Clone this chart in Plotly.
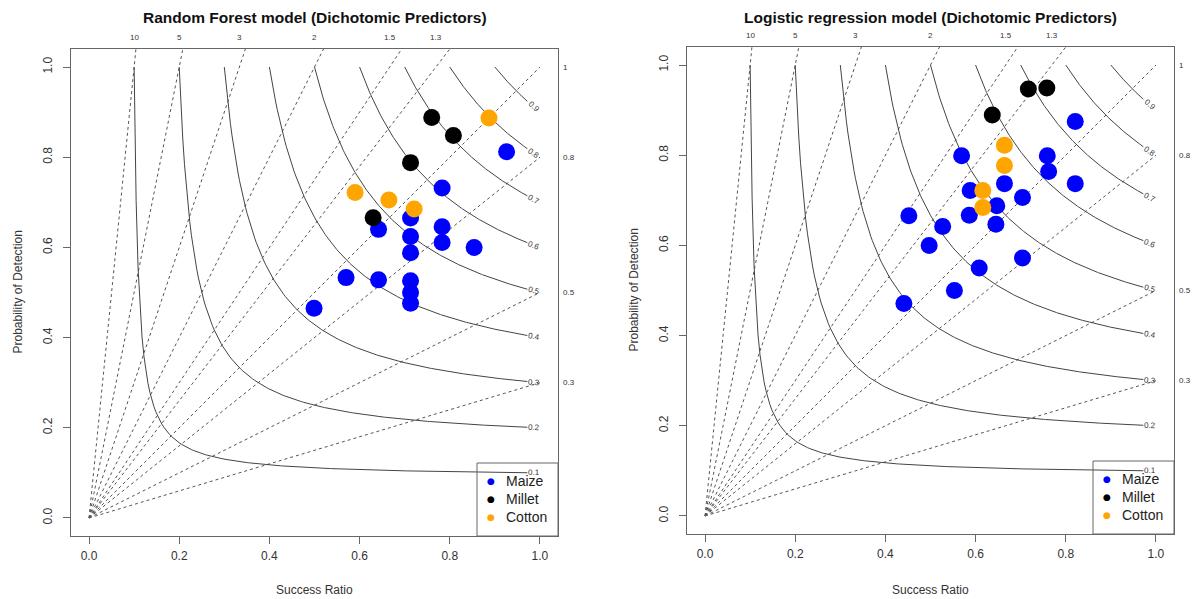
import numpy as np
import plotly.graph_objects as go

# ---------------- data ----------------
species = ["Maize", "Millet", "Cotton"]
species_colors = ["#0000FF", "#000000", "#FFA500"]

# Random Forest model (success ratio, probability of detection)
rf_maize_sr = [0.926, 0.783, 0.783, 0.783, 0.854, 0.713, 0.713, 0.713, 0.713, 0.713, 0.713, 0.642, 0.642, 0.570, 0.499]
rf_maize_pod = [0.812, 0.732, 0.646, 0.611, 0.600, 0.665, 0.624, 0.588, 0.526, 0.500, 0.476, 0.640, 0.528, 0.533, 0.465]
rf_millet_sr = [0.760, 0.808, 0.713, 0.630]
rf_millet_pod = [0.888, 0.848, 0.788, 0.666]
rf_cotton_sr = [0.887, 0.590, 0.665, 0.721]
rf_cotton_pod = [0.887, 0.722, 0.705, 0.685]

# Logistic regression model
lr_maize_sr = [0.821, 0.759, 0.762, 0.821, 0.569, 0.664, 0.588, 0.647, 0.704, 0.586, 0.645, 0.452, 0.527, 0.497, 0.704, 0.608, 0.553, 0.441]
lr_maize_pod = [0.875, 0.799, 0.764, 0.737, 0.799, 0.737, 0.722, 0.688, 0.706, 0.667, 0.647, 0.666, 0.642, 0.600, 0.572, 0.550, 0.500, 0.471]
lr_millet_sr = [0.717, 0.758, 0.637]
lr_millet_pod = [0.947, 0.949, 0.889]
lr_cotton_sr = [0.664, 0.664, 0.616, 0.616]
lr_cotton_pod = [0.822, 0.777, 0.722, 0.684]

csi_levels = [0.1, 0.2, 0.3, 0.4, 0.5, 0.6, 0.7, 0.8, 0.9]
bias_levels = [0.3, 0.5, 0.8, 1, 1.3, 1.5, 2, 3, 5, 10]
tick_vals = [0.0, 0.2, 0.4, 0.6, 0.8, 1.0]

titles = ["Random Forest model (Dichotomic Predictors)", "Logistic regression model (Dichotomic Predictors)"]

# ---------------- layout geometry (page pixels) ----------------
W, H = 1194, 599
boxes = [  # left, right, top, bottom in page px
    (71, 558, 49, 536),
    (687, 1174, 47, 534),
]
RNG = (-0.04, 1.04)
FONT = "Liberation Sans, Arial, Helvetica, sans-serif"
LINEC = "#666666"
TXT = "#333333"

def px_x(p):
    return p / W

def px_y(p):
    return 1 - p / H

def data_to_paper(i, xv, yv):
    l, r, t, b = boxes[i]
    pxv = l + (xv - RNG[0]) / (RNG[1] - RNG[0]) * (r - l)
    pyv = b - (yv - RNG[0]) / (RNG[1] - RNG[0]) * (b - t)
    return px_x(pxv), px_y(pyv)

fig = go.Figure()

panels = [
    ((rf_maize_sr, rf_maize_pod), (rf_millet_sr, rf_millet_pod), (rf_cotton_sr, rf_cotton_pod)),
    ((lr_maize_sr, lr_maize_pod), (lr_millet_sr, lr_millet_pod), (lr_cotton_sr, lr_cotton_pod)),
]

annotations = []
shapes = []

def ann(x, y, text, size, color, xanchor="center", yanchor="middle", angle=0, family=FONT):
    annotations.append(dict(x=x, y=y, xref="paper", yref="paper", text=text, textangle=angle,
                            xanchor=xanchor, yanchor=yanchor, showarrow=False,
                            font=dict(size=size, color=color, family=family)))

for i, series in enumerate(panels):
    xa = "x" if i == 0 else "x2"
    ya = "y" if i == 0 else "y2"
    # bias lines (dashed)
    for b in bias_levels:
        x_end = min(1.0, 1.04 / b)
        fig.add_trace(go.Scatter(x=[0, x_end], y=[0, b * x_end], mode="lines",
                                 line=dict(color="#555555", width=1, dash="3px,3px"),
                                 xaxis=xa, yaxis=ya, showlegend=False, hoverinfo="skip"))
        if b > 1:
            px_, py_ = data_to_paper(i, 1 / b, 1.066)
            ann(px_, py_, f"{b:g}", 8, TXT)
        else:
            px_, py_ = data_to_paper(i, 1.047, b)
            ann(px_, py_, f"{b:g}", 8, TXT, xanchor="left")
    # CSI curves (solid)
    for c in csi_levels:
        sr = np.linspace(c, 0.972, 200)
        pod = 1.0 / (1.0 / c - 1.0 / sr + 1.0)
        fig.add_trace(go.Scatter(x=sr, y=pod, mode="lines", line=dict(color="#444444", width=1),
                                 xaxis=xa, yaxis=ya, showlegend=False, hoverinfo="skip"))
        xl = 0.986
        d = 1.0 / c - 1.0 / xl + 1.0
        yl = 1.0 / d
        slope = -(1.0 / d ** 2) / xl ** 2
        ang = float(np.degrees(np.arctan(-slope)))
        px_, py_ = data_to_paper(i, xl, yl)
        ann(px_, py_, f"{c:g}", 8, TXT, angle=ang)
    # points
    for (sx, sy), name, col in zip(series, species, species_colors):
        fig.add_trace(go.Scatter(x=sx, y=sy, mode="markers", name=name,
                                 marker=dict(color=col, size=17, line=dict(width=0)),
                                 xaxis=xa, yaxis=ya, showlegend=False))

    l, r, t, btm = boxes[i]
    cx = (l + r) / 2
    ann(px_x(cx), px_y(18), f"<b>{titles[i]}</b>", 15.5, "#111111")
    ann(px_x(cx), px_y(590), "Success Ratio", 12, TXT)
    ann(px_x(l - 54), px_y((t + btm) / 2), "Probability of Detection", 12, TXT, angle=-90)
    # legend box (no fill, as in the original)
    lg_l, lg_t = r - 81, btm - 73
    shapes.append(dict(type="rect", xref="paper", yref="paper", x0=px_x(lg_l), x1=px_x(r),
                       y0=px_y(btm), y1=px_y(lg_t), line=dict(color=LINEC, width=1),
                       fillcolor="rgba(0,0,0,0)", layer="above"))
    for k, (name, col) in enumerate(zip(species, species_colors)):
        yy = lg_t + 18 + k * 18
        ann(px_x(lg_l + 14), px_y(yy), "●", 9, col, family="DejaVu Sans")
        ann(px_x(lg_l + 27), px_y(yy), name, 14, "#222222", xanchor="left")

def xaxis_cfg(i):
    l, r, t, b = boxes[i]
    return dict(domain=[px_x(l), px_x(r)], range=list(RNG), anchor="y" if i == 0 else "y2",
                showline=True, linecolor=LINEC, linewidth=1, mirror=True, ticks="outside", ticklen=7,
                tickcolor=LINEC, tickvals=tick_vals, ticktext=[f"{v:.1f}" for v in tick_vals],
                showgrid=False, zeroline=False, tickfont=dict(size=12, color=TXT, family=FONT),
                ticklabelstandoff=2, fixedrange=True)

def yaxis_cfg(i):
    l, r, t, b = boxes[i]
    return dict(domain=[px_y(b), px_y(t)], range=list(RNG), anchor="x" if i == 0 else "x2",
                showline=True, linecolor=LINEC, linewidth=1, mirror=True, ticks="outside", ticklen=7,
                tickcolor=LINEC, tickvals=tick_vals, ticktext=[f"{v:.1f}" for v in tick_vals],
                showgrid=False, zeroline=False, tickfont=dict(size=12, color=TXT, family=FONT),
                tickangle=-90, ticklabelstandoff=6, fixedrange=True)

fig.update_layout(
    width=W, height=H, autosize=False,
    margin=dict(l=0, r=0, t=0, b=0),
    paper_bgcolor="white", plot_bgcolor="white",
    xaxis=xaxis_cfg(0), yaxis=yaxis_cfg(0),
    xaxis2=xaxis_cfg(1), yaxis2=yaxis_cfg(1),
    annotations=annotations, shapes=shapes,
    showlegend=False, hovermode=False,
    font=dict(family=FONT),
)

# remove the page's default 8px body margin so the figure fills the window exactly
fig.write_html("out.html",
               config={"displayModeBar": False, "staticPlot": True},
               post_script="document.body.style.margin='0px';document.body.style.overflow='hidden';")
